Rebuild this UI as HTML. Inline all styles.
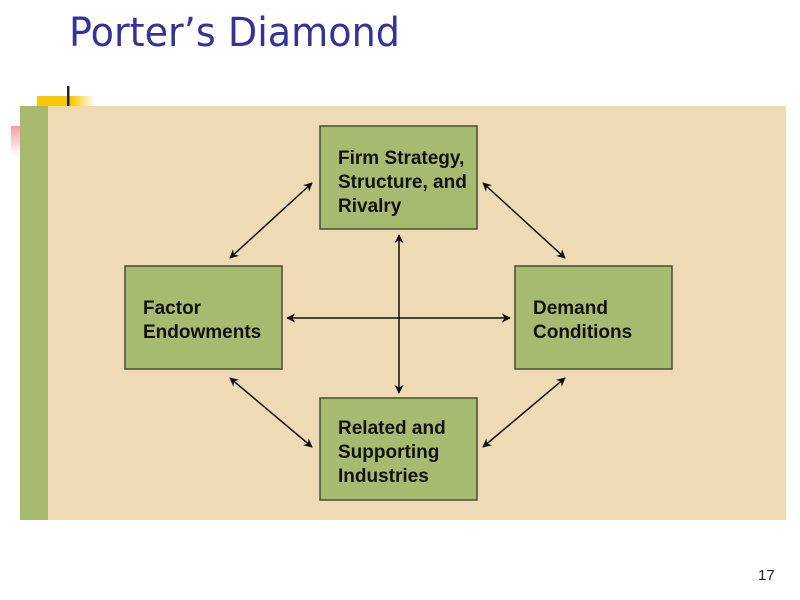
<!DOCTYPE html>
<html><head><meta charset="utf-8"><style>
body{margin:0;width:800px;height:600px;background:#fff;overflow:hidden;position:relative;font-family:"Liberation Sans",sans-serif}
</style></head><body>
<svg width="800" height="600" style="position:absolute;left:0;top:0">
<defs>
<linearGradient id="y" x1="0" x2="1"><stop offset="0.6" stop-color="#f8c800"/><stop offset="1" stop-color="#f8c800" stop-opacity="0"/></linearGradient>
<linearGradient id="r" x1="0" y1="0" x2="0" y2="1"><stop offset="0" stop-color="#f4a0a0"/><stop offset="1" stop-color="#f4a0a0" stop-opacity="0"/></linearGradient>
<marker id="a" viewBox="0 0 10 10" refX="9" refY="5" markerWidth="9" markerHeight="9" orient="auto-start-reverse" markerUnits="userSpaceOnUse"><path d="M0,0 L10,5 L0,10 L3,5 z" fill="#111"/></marker>
</defs>
<text x="69" y="46" font-size="40" fill="#333399" font-family="DejaVu Sans,Liberation Sans,sans-serif" textLength="331" lengthAdjust="spacingAndGlyphs">Porter’s Diamond</text>
<rect x="37" y="96" width="58" height="12" fill="url(#y)"/>
<rect x="11" y="126" width="10" height="30" fill="url(#r)"/>
<rect x="67" y="86" width="2.5" height="22" fill="#222"/>
<rect x="20" y="106" width="766" height="414" fill="#efdab6"/>
<rect x="20" y="106" width="28" height="414" fill="#a7b86f"/>
<g fill="#a6ba70" stroke="#4a4a35" stroke-width="1.5">
<rect x="320" y="126" width="157" height="103"/>
<rect x="125" y="266" width="157" height="103"/>
<rect x="515" y="266" width="157" height="103"/>
<rect x="320" y="398" width="157" height="102"/>
</g>
<g stroke="#111" stroke-width="1.5" marker-start="url(#a)" marker-end="url(#a)">
<line x1="230" y1="258" x2="312" y2="183"/>
<line x1="483" y1="183" x2="565" y2="258"/>
<line x1="230" y1="378" x2="312" y2="447"/>
<line x1="565" y1="378" x2="483" y2="447"/>
<line x1="399" y1="235" x2="399" y2="393"/>
<line x1="287" y1="318" x2="510" y2="318"/>
</g>
<g font-family="Liberation Sans Narrow,Liberation Sans,sans-serif" font-weight="bold" font-size="19" fill="#111">
<text x="338" y="164">Firm Strategy,</text>
<text x="338" y="188">Structure, and</text>
<text x="338" y="212">Rivalry</text>
<text x="143" y="314">Factor</text>
<text x="143" y="338">Endowments</text>
<text x="533" y="314">Demand</text>
<text x="533" y="338">Conditions</text>
<text x="338" y="434">Related and</text>
<text x="338" y="458">Supporting</text>
<text x="338" y="482">Industries</text>
</g>
<text x="758" y="580" font-size="15" fill="#222">17</text>
</svg>
</body></html>
